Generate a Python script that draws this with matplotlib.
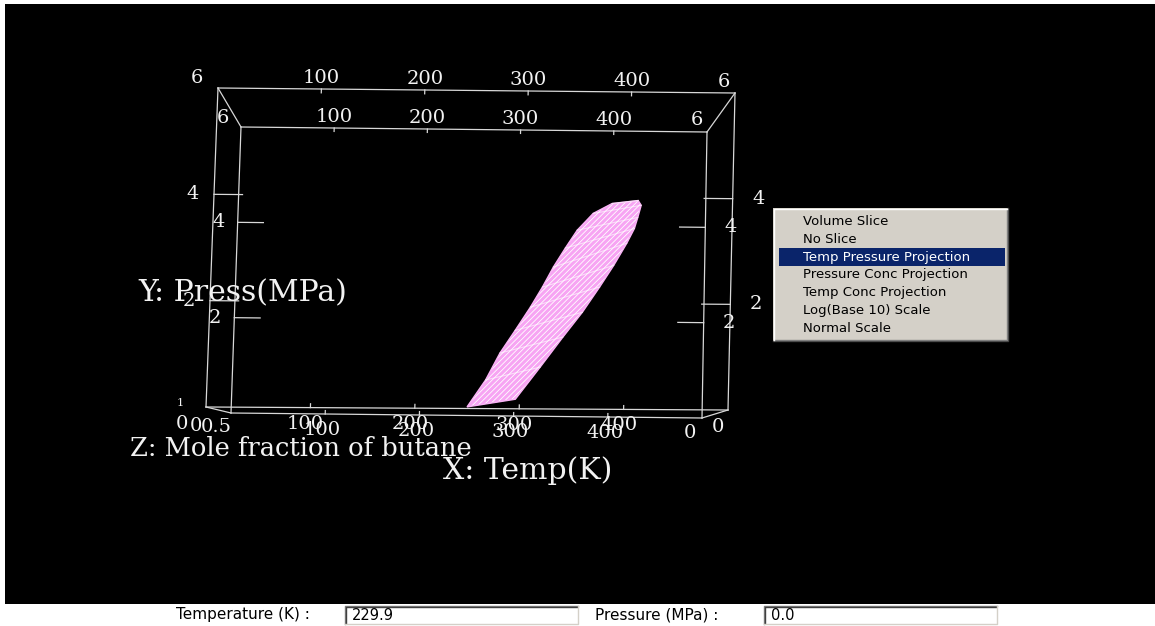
import numpy as np
import matplotlib
matplotlib.use("Agg")
import matplotlib.pyplot as plt
from matplotlib.patches import Polygon, Rectangle

W, H = 1155, 626

# box axes
t_lim = (0, 500)      # X: Temp(K)
p_lim = (0, 6)        # Y: Press(MPa)
z_lim = (0, 1)        # Z: mole fraction of butane
t_ticks = [100, 200, 300, 400]
p_ticks = [2, 4]

# two-phase envelope edges (T in K, P in MPa), on the z = 0 face
bubble_t = [250, 267, 280, 294, 308, 319, 329, 340, 351, 366, 384]
bubble_p = [0.03, 0.54, 1.05, 1.48, 1.92, 2.30, 2.68, 3.04, 3.38, 3.70, 3.89]
dew_t = [296, 319, 340, 358, 374, 387, 399, 406, 409, 412, 409]
dew_p = [0.18, 0.79, 1.36, 1.83, 2.31, 2.72, 3.14, 3.42, 3.63, 3.86, 3.95]

menu_items = ["Volume Slice", "No Slice", "Temp Pressure Projection",
              "Pressure Conc Projection", "Temp Conc Projection",
              "Log(Base 10) Scale", "Normal Scale"]
menu_selected = 2
field_labels = ["Temperature (K) :", "Pressure (MPa) :"]
field_values = ["229.9", "0.0"]

EDGE = "#d8d8d8"
TXT = "#f2f2f2"
SERIF = "DejaVu Serif"
SANS = "DejaVu Sans"

# screen corners of the two box faces, (u, v) -> pixel
front = {(0, 0): (206, 407), (1, 0): (728, 410), (0, 1): (218, 88), (1, 1): (735, 93)}
back = {(0, 0): (231, 413), (1, 0): (702, 418), (0, 1): (241, 127), (1, 1): (707, 132)}


def face_xy(face, u, v):
    out = np.zeros(u.shape + (2,))
    for (cu, cv), c in face.items():
        wgt = (u if cu else 1 - u) * (v if cv else 1 - v)
        out += wgt[..., None] * np.array(c, float)
    return out


def proj(t, p, z=0.0):
    t, p, z = np.broadcast_arrays(np.asarray(t, float), np.asarray(p, float),
                                  np.asarray(z, float))
    u = (t - t_lim[0]) / (t_lim[1] - t_lim[0])
    v = (p - p_lim[0]) / (p_lim[1] - p_lim[0])
    w = (z - z_lim[0]) / (z_lim[1] - z_lim[0])
    return (1 - w)[..., None] * face_xy(front, u, v) + w[..., None] * face_xy(back, u, v)


def seg(t, p, z, **kw):
    xy = proj(t, p, z)
    ax.plot(xy[:, 0], xy[:, 1], **kw)


def label(t, p, z, s, dx, dy, size=14):
    x, y = proj(t, p, z)
    ax.text(x + dx, y + dy, s, color=TXT, fontsize=size, family=SERIF,
            ha="center", va="center")


fig = plt.figure(figsize=(W / 100, H / 100), dpi=100, facecolor="white")
ax = fig.add_axes([0, 0, 1, 1])
ax.set_xlim(0, W)
ax.set_ylim(H, 0)
ax.axis("off")
ax.add_patch(Rectangle((5, 4), W - 5, 600, facecolor="black", edgecolor="none", zorder=0))

# box frame
t0, t1 = t_lim
p0, p1 = p_lim
for z in z_lim:
    seg([t0, t1], [p0, p0], z, color=EDGE, lw=0.9)
    seg([t0, t1], [p1, p1], z, color=EDGE, lw=0.9)
    seg([t0, t0], [p0, p1], z, color=EDGE, lw=0.9)
    seg([t1, t1], [p0, p1], z, color=EDGE, lw=0.9)
for t in t_lim:
    for p in p_lim:
        seg([t, t], [p, p], list(z_lim), color=EDGE, lw=0.9)

# ticks
tl = 0.055 * (t1 - t0)
pl = 0.012 * (p1 - p0)
for z in z_lim:
    for p in p_ticks:
        seg([t0, t0 + tl], [p, p], z, color=EDGE, lw=0.9)
        seg([t1, t1 - tl], [p, p], z, color=EDGE, lw=0.9)
    for t in t_ticks:
        seg([t, t], [p1, p1 - pl], z, color=EDGE, lw=0.9)
        seg([t, t], [p0, p0 + pl], z, color=EDGE, lw=0.9)

# tick labels
for t in t_ticks:
    label(t, p1, 0, str(t), 0, -11)
    label(t, p1, 1, str(t), 0, -11)
    label(t, p0, 0, str(t), -5, 16)
    label(t, p0, 1, str(t), -3, 16)
for p in p_ticks:
    label(t0, p, 0, str(p), -21, 0)
    label(t0, p, 1, str(p), -19, 0)
    label(t1, p, 0, str(p), 26, 0)
    label(t1, p, 1, str(p), 25, 0)
label(t0, p1, 0, "6", -21, -10)
label(t0, p1, 1, "6", -18, -9)
label(t1, p1, 0, "6", -11, -11)
label(t1, p1, 1, "6", -10, -12)
label(t1, p0, 0, "0", -10, 17)
label(t1, p0, 1, "0", -12, 15)
label(t0, p0, 0, "0", -24, 17)
label(t0, p0, 1, "0", -35, 13)
label(t0, p0, 0.5, "0.5", -2, 17)
label(t0, p0, 1, "1", -51, -10, size=8)

# axis titles
ax.text(138, 293, "Y: Press(MPa)", color=TXT, fontsize=21.5, family=SERIF, va="center")
ax.text(130, 448, "Z: Mole fraction of butane", color=TXT, fontsize=18.5, family=SERIF,
        va="center")
ax.text(443, 471, "X: Temp(K)", color=TXT, fontsize=21.5, family=SERIF, va="center")

# envelope surface
b = proj(bubble_t, bubble_p, 0)
d = proj(dew_t, dew_p, 0)
outline = np.vstack([b, d[::-1]])
plt.rcParams["hatch.linewidth"] = 0.6
ax.add_patch(Polygon(outline, closed=True, facecolor="#f7a4f3", edgecolor="white",
                     hatch="//////", lw=0, zorder=3))
ax.add_patch(Polygon(outline, closed=True, facecolor="none", edgecolor="#f9b4f5",
                     lw=1, zorder=4))
for (xa, ya), (xb, yb) in zip(b[1:], d[1:]):
    ax.plot([xa, xb], [ya, yb], color="white", lw=0.8, alpha=0.6, zorder=4)

# popup menu
mx, my, mw, mh = 773, 208, 235, 133
ax.add_patch(Rectangle((mx, my), mw, mh, facecolor="#d4d0c8", edgecolor="none", zorder=5))
ax.plot([mx, mx + mw, mx + mw], [my + mh, my + mh, my], color="#404040", lw=1, zorder=6)
ax.plot([mx + 1, mx + mw - 1, mx + mw - 1], [my + mh - 1, my + mh - 1, my + 1],
        color="#808080", lw=1, zorder=6)
ax.plot([mx + 1, mx + 1, mx + mw - 1], [my + mh - 1, my + 1, my + 1], color="white",
        lw=1, zorder=6)
row0, pitch = 221.5, 17.75
for i, item in enumerate(menu_items):
    yc = row0 + i * pitch
    col = "black"
    if i == menu_selected:
        ax.add_patch(Rectangle((mx + 6, yc - 9), mw - 9, 18, facecolor="#0a246a",
                               edgecolor="none", zorder=6))
        col = "white"
    ax.text(803, yc, item, color=col, fontsize=9.5, family=SANS, va="center", zorder=7)

# bottom field panel
label_x = [176, 595]
box_x = [345, 764]
for lx, bx, lab, val in zip(label_x, box_x, field_labels, field_values):
    ax.text(lx, 615, lab, color="black", fontsize=11, family=SANS, va="center")
    ax.add_patch(Rectangle((bx, 606), 233, 18, facecolor="white", edgecolor="none"))
    ax.plot([bx, bx, bx + 233], [624, 606, 606], color="#808080", lw=1)
    ax.plot([bx + 1, bx + 1, bx + 232], [623, 607, 607], color="#404040", lw=1)
    ax.plot([bx, bx + 233, bx + 233], [624, 624, 606], color="#d4d0c8", lw=1)
    ax.text(bx + 7, 615, val, color="black", fontsize=10.5, family=SANS, va="center")

fig.savefig("out.png", dpi=100, facecolor="white")
